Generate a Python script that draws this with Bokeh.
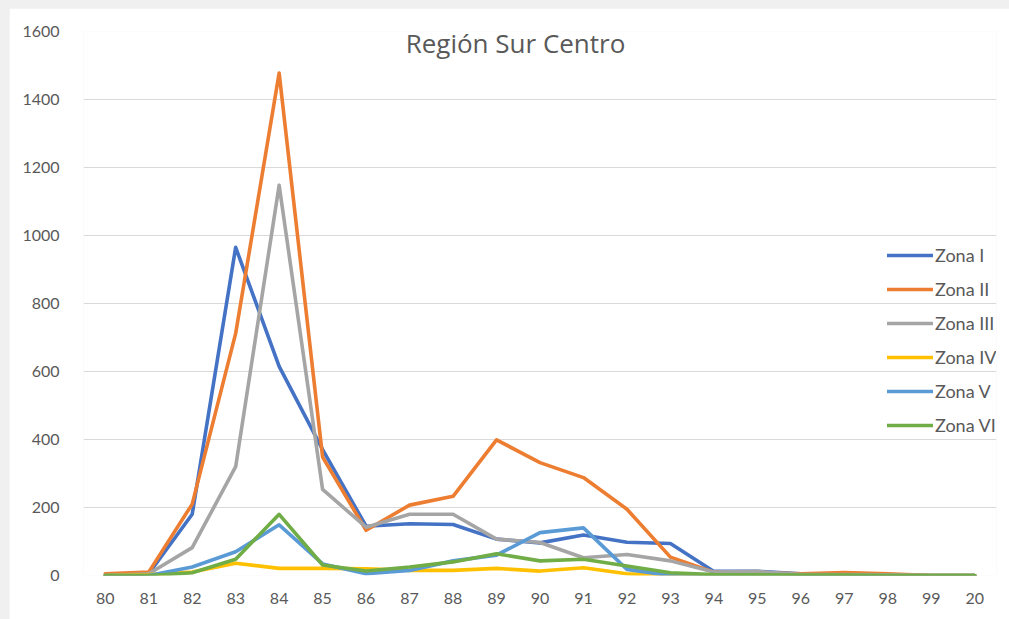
from bokeh.plotting import figure
from bokeh.models import FactorRange, Label, Legend, LegendItem, FixedTicker
from bokeh.embed import file_html
from bokeh.resources import INLINE

years = ["80", "81", "82", "83", "84", "85", "86", "87", "88", "89", "90",
         "91", "92", "93", "94", "95", "96", "97", "98", "99", "20"]

zona_i = [0, 5, 180, 965, 615, 370, 145, 152, 150, 107, 96, 119, 98, 94, 12, 12, 5, 5, 2, 0, 0]
zona_ii = [5, 10, 210, 712, 1478, 348, 133, 207, 233, 399, 332, 288, 195, 54, 10, 8, 5, 9, 5, 0, 0]
zona_iii = [0, 5, 82, 320, 1148, 253, 142, 180, 180, 107, 97, 52, 62, 43, 10, 12, 3, 3, 2, 0, 0]
zona_iv = [0, 3, 10, 36, 21, 21, 20, 15, 15, 21, 13, 23, 5, 0, 0, 0, 0, 0, 0, 0, 0]
zona_v = [0, 0, 25, 70, 149, 34, 5, 15, 43, 60, 126, 140, 18, 0, 0, 0, 0, 0, 0, 0, 0]
zona_vi = [0, 0, 8, 48, 180, 31, 13, 25, 40, 64, 43, 48, 28, 8, 3, 2, 1, 1, 0, 0, 0]

series_names = ["Zona I", "Zona II", "Zona III", "Zona IV", "Zona V", "Zona VI"]
series_values = [zona_i, zona_ii, zona_iii, zona_iv, zona_v, zona_vi]
colors = ["#4472C4", "#ED7D31", "#A5A5A5", "#FFC000", "#5B9BD5", "#70AD47"]
y_ticks = [0, 200, 400, 600, 800, 1000, 1200, 1400, 1600]

FONT = "Lato"
TXT = "#595959"

p = figure(width=1000, height=611, x_range=FactorRange(*years), y_range=(0, 1600),
           output_backend="svg", toolbar_location=None,
           min_border_left=74, min_border_right=13, min_border_top=23, min_border_bottom=44)

p.background_fill_color = "white"
p.border_fill_color = "white"
p.outline_line_color = None

p.xgrid.grid_line_color = None
p.ygrid.grid_line_color = "#D9D9D9"
p.ygrid.grid_line_width = 1
p.yaxis.ticker = FixedTicker(ticks=y_ticks)

for ax in (p.xaxis[0], p.yaxis[0]):
    ax.axis_line_color = None
    ax.major_tick_line_color = None
    ax.minor_tick_line_color = None
    ax.major_tick_out = 0
    ax.major_tick_in = 0
    ax.major_label_text_font = FONT
    ax.major_label_text_font_size = "16px"
    ax.major_label_text_color = TXT
p.yaxis.major_label_standoff = 24
p.xaxis.major_label_standoff = 17
p.x_range.range_padding = 0
p.x_range.factor_padding = 0

items = []
for name, vals, col in zip(series_names, series_values, colors):
    r = p.line(years, vals, line_color=col, line_width=3.6, line_join="round", line_cap="round")
    items.append(LegendItem(label=name, renderers=[r]))

legend = Legend(items=items, location=(804, 139), orientation="vertical",
                glyph_width=46, glyph_height=20, label_height=20, label_standoff=2,
                spacing=12, padding=0, margin=0,
                label_text_font=FONT, label_text_font_size="18px", label_text_color=TXT,
                border_line_color=None, background_fill_alpha=0)
p.add_layout(legend, "center")

title = Label(x=432, y=533, x_units="screen", y_units="screen", text="Región Sur Centro",
              text_font="Open Sans", text_font_size="26px", text_color=TXT,
              text_align="center", text_baseline="alphabetic")
p.add_layout(title)

tmpl = """{% block postamble %}<style>
html, body { overflow: hidden !important; }
body { background: #F0F0F0 !important; padding: 8px 0 0 9px !important; box-sizing: border-box !important; margin: 0 !important; }
</style>{% endblock %}"""
open("out.html", "w").write(file_html(p, INLINE, template=tmpl))
